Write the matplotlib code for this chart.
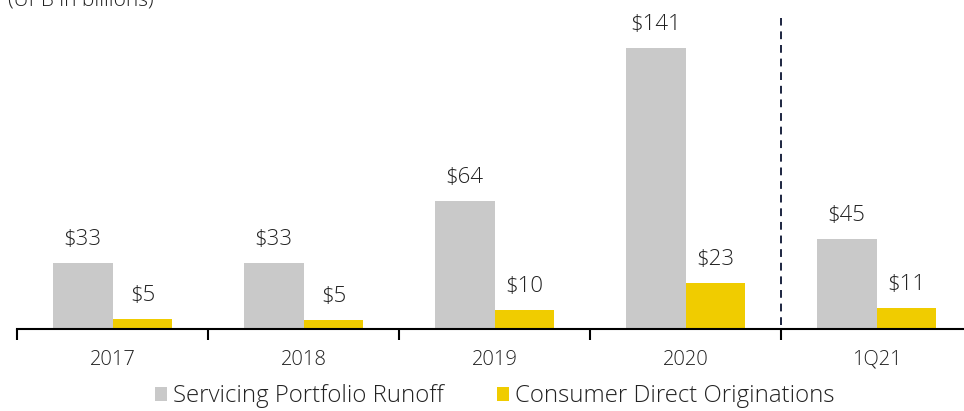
#!/usr/bin/env python3

import numpy as np
from matplotlib import pyplot as plt

plt.rcParams['font.family'] = ['Open Sans', 'DejaVu Sans']

periods = ['2017', '2018', '2019', '2020', '1Q21']
runoff = [33, 33, 64, 141, 45]
originations = [5.2, 4.6, 9.6, 23, 10.6]

gray = '#c9c9c9'
yellow = '#f0cc00'
txt = '#222222'


def main():
    fig = plt.figure(figsize=(9.64, 4.11), dpi=100)
    ax = fig.add_axes([17/964, 82/411, 955/964, 329/411])

    x = np.arange(len(periods))
    w = 0.314
    ax.bar(x - w/2, runoff, w, color=gray, label='Servicing Portfolio Runoff')
    ax.bar(x + w/2, originations, w, color=yellow, label='Consumer Direct Originations')

    for xi, v in zip(x - w/2, runoff):
        ax.annotate(f'${v:.0f}', (xi, v), xytext=(0, 18), textcoords='offset pixels',
                    ha='center', va='baseline', fontsize=16, color=txt,
                    fontweight='light')
    for xi, v in zip(x + w/2, originations):
        ax.annotate(f'${v:.0f}', (xi, v), xytext=(0, 18), textcoords='offset pixels',
                    ha='center', va='baseline', fontsize=16, color=txt,
                    fontweight='light')

    # divider between years and quarter
    ax.plot([3.5, 3.5], [2, 156], ls=(0, (4, 3)), color='#1c2540', lw=1.4)

    ax.set_xlim(-0.5, 4.5)
    ax.set_ylim(0, 165)
    for s in ['top', 'right', 'left']:
        ax.spines[s].set_visible(False)
    ax.spines['bottom'].set_linewidth(1.5)
    ax.set_yticks([])
    ax.set_xticks(np.arange(len(periods) + 1) - 0.5)
    ax.set_xticklabels([])
    ax.tick_params(axis='x', which='major', length=8, width=1.5, direction='out')
    ax.set_xticks(x, minor=True)
    ax.set_xticklabels(periods, minor=True, fontsize=14.5, color=txt,
                       fontweight='light')
    ax.tick_params(axis='x', which='minor', length=0, pad=15)

    fig.text(8/964, 1 - 5/411, '(UPB in billions)', fontsize=15, color=txt,
             ha='left', va='baseline', fontweight='light')

    ax.legend(loc='center', bbox_to_anchor=(0.5 - 0.0, -0.205), ncol=2,
              frameon=False, prop={'size': 17.3, 'weight': 'light'},
              handlelength=0.5, handleheight=0.5,
              handletextpad=0.25, columnspacing=2.2, labelcolor=txt)

    fig.savefig('out.png', dpi=100)


if __name__ == '__main__':
    main()
